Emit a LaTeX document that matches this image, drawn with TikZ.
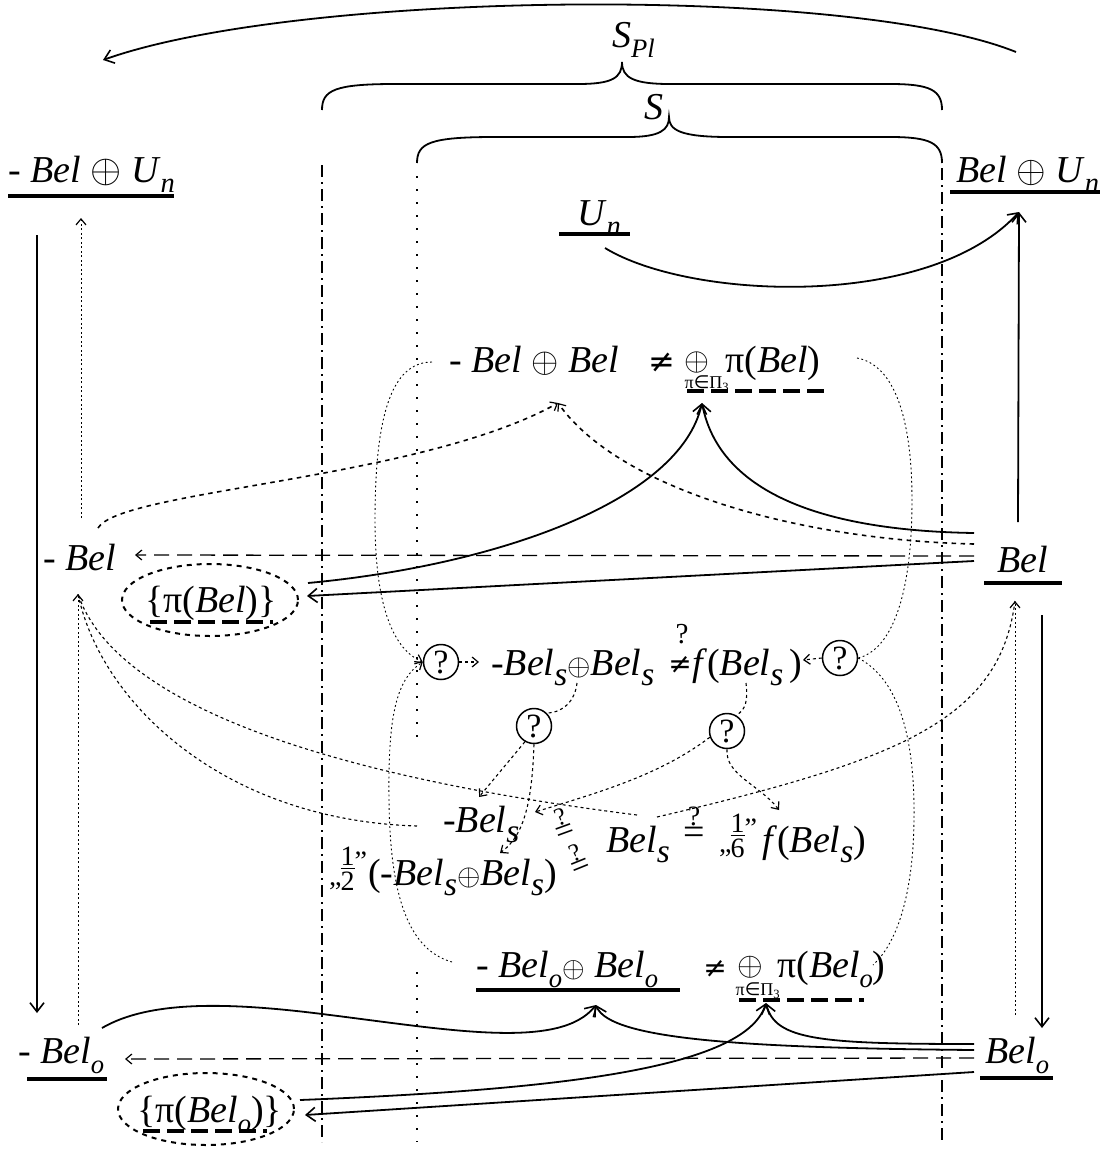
\RequirePackage{fix-cm}
\documentclass[tikz,border=0pt]{standalone}
\usepackage{fontspec}
\setmainfont{Liberation Serif}
\newfontfamily\symf{DejaVu Sans}
\usepackage{graphicx}
\usetikzlibrary{arrows.meta,shapes.geometric}
\newcommand{\Bl}{\textit{Bel}}
\newcommand{\lo}[2][0.7]{\raisebox{-0.28em}{\scalebox{#1}{\textit{#2}}}}
\newcommand{\ls}{\lo[0.88]{s}}
\newcommand{\mf}{\fontsize{38}{40}\selectfont}
\newcommand{\myoplus}[1]{{\fontsize{#1}{#1}\selectfont$\oplus$}}
\newcommand{\myneq}[1]{{\symf\fontsize{#1}{#1}\selectfont ≠}}
\newcommand{\mysub}{π{\symf ∈}Π\textsubscript{3}}
\newcommand{\myfr}[2]{\raisebox{-5pt}{\fontsize{28}{28}\selectfont\vbox{\offinterlineskip\halign{\hfil##\hfil\cr #1\cr\noalign{\kern2.5pt}\noalign{\hrule height 1.4pt}\noalign{\kern2.5pt}#2\cr}}}}
\newcommand{\qfrac}[1]{{\fontsize{28}{28}\selectfont „}\kern-1pt\myfr{1}{#1}\raisebox{15pt}{\fontsize{28}{28}\selectfont ”}}
\newcommand{\qeq}[2]{\vbox{\offinterlineskip\halign{\hfil##\hfil\cr{\fontsize{#1}{#1}\selectfont ?}\cr\noalign{\kern1pt}{\fontsize{#2}{#2}\selectfont =}\cr}}}
\begin{document}
\begin{tikzpicture}[x=1pt,y=-1pt,
  txt/.style={inner sep=0pt, anchor=base west, font=\mf},
  sym/.style={inner sep=0pt, anchor=base},
  small/.style={inner sep=0pt, font=\fontsize{18}{18}\selectfont},
  stk/.style={inner sep=0pt},
  qc/.style={circle, draw, line width=1.5pt, minimum size=35pt, inner sep=0pt, font=\fontsize{34}{34}\selectfont},
  ell/.style={ellipse, draw, line width=2pt, dash pattern=on 5pt off 5pt, minimum width=176pt, minimum height=72pt, inner sep=0pt},
  sarr/.style={line width=1.8pt, -{Straight Barb[length=9pt,width=14pt,line width=1.6pt]}},
  darr/.style={-{Straight Barb[length=6pt,width=10pt,line width=1.2pt]}},
  ulin/.style={line width=3.5pt},
  uldash/.style={line width=3.5pt, dash pattern=on 17pt off 7pt},
  ldash/.style={line width=1.3pt, dash pattern=on 15pt off 8pt},
  mdash/.style={line width=1.6pt, dash pattern=on 4.5pt off 4.5pt},
  sdash/.style={line width=1.1pt, dash pattern=on 3pt off 3pt},
  fine/.style={line width=0.9pt, dash pattern=on 1.8pt off 2.7pt},
  vdot/.style={line width=2pt, dash pattern=on 2pt off 11pt},
  dashdot/.style={line width=1.6pt, dash pattern=on 12pt off 5pt on 2pt off 5pt},
  brace/.style={line width=1.8pt}]
\fill[white] (0,0) rectangle (1110,1149);
\useasboundingbox (0,0) rectangle (1110,1149);

% ---------- labels ----------
\node[txt] (SPl) at (612,47) {\textit{S}\lo{Pl}};
\node[txt] (S) at (644,119) {\textit{S}};
\node[txt] (mBelUn) at (8,182) {- \Bl\ \myoplus{40} \textit{U}\lo[0.75]{n}};
\node[txt] (BelUn) at (956,182) {\Bl\ \myoplus{38} \textit{U}\lo[0.75]{n}};
\node[txt] (Un) at (577,225) {\textit{U}\lo[0.75]{n}};

\node[txt] (eqAa) at (449,372) {- \Bl\ \myoplus{35} \Bl};
\node[sym] (eqAb) at (662,372) {\myneq{32}};
\node[sym] (eqAc) at (697,370) {\myoplus{32}};
\node[small] (eqAs) at (707,384) {\mysub};
\node[txt] (eqAd) at (725,372) {π(\Bl)};

\node[txt] (mBel) at (43,570) {- \Bl};
\node[txt] (Bel) at (997,572) {\Bl};
\node[ell] (ellA) at (210,600) {};
\node[txt] (piBel) at (145,612) {\{π(\Bl)\}};

\node[qc] (qL) at (441,662) {?};
\node[qc] (qR) at (840,658) {?};
\node[qc] (qML) at (534,726) {?};
\node[qc] (qMR) at (727,731) {?};
\node[txt] (eqBa) at (491,675) {-\Bl\ls\myoplus{30}\Bl\ls};
\node[sym] (eqBb) at (680,673) {\myneq{28}};
\node[inner sep=0pt, font=\fontsize{29}{29}\selectfont] (eqBq) at (682,634) {?};
\node[txt] (eqBc) at (692,675) {\textit{f}(\Bl\ls\,)};

\node[txt] (mBels) at (443,832) {-\Bl\ls};
\node[stk, rotate=20] (st1) at (563,825) {\qeq{25}{33}};
\node[stk, rotate=22] (st2) at (578,860) {\qeq{25}{33}};
\node[txt] (Bels) at (606,852) {\Bl\ls};
\node[stk] (st3) at (694,826) {\qeq{28}{38}};
\node[txt] (sixth) at (719,852) {\qfrac{6}};
\node[txt] (fBels) at (762,852) {\textit{f}(\Bl\ls)};
\node[txt] (half) at (329,885) {\qfrac{2}};
\node[txt] (halfB) at (368,885) {(-\Bl\ls\myoplus{30}\Bl\ls)};

\node[txt] (eqCa) at (476,977) {- \Bl\lo{o}\myoplus{29}\ \Bl\lo{o}};
\node[sym] (eqCb) at (715,977) {\myneq{28}};
\node[sym] (eqCc) at (750,975) {\myoplus{33}};
\node[small] (eqCs) at (758,991) {\mysub};
\node[txt] (eqCd) at (777,977) {π(\Bl\lo{o})};

\node[txt] (mBelo) at (18,1063) {- \Bl\lo{o}};
\node[txt] (Belo) at (985,1063) {\Bl\lo{o}};
\node[ell] (ellB) at (206,1109) {};
\node[txt] (piBelo) at (137,1122) {\{π(\Bl\lo{o})\}};

% ---------- underlines ----------
\draw[ulin] (8,196) -- (174,196);
\draw[ulin] (950,192) -- (1100,192);
\draw[ulin] (559,234) -- (630,234);
\draw[uldash] (687,391) -- (826,391);
\draw[ulin] (984,583) -- (1062,583);
\draw[uldash] (150,622) -- (273,622);
\draw[ulin] (476,990) -- (680,990);
\draw[uldash] (739,1000) -- (864,1000);
\draw[ulin] (27,1079) -- (107,1079);
\draw[ulin] (980,1078) -- (1053,1078);
\draw[uldash] (143,1131) -- (267,1131);

% ---------- braces and frame lines ----------
\draw[brace] (322,110) .. controls (322,90) and (335,84) .. (395,84) -- (578,84)
  .. controls (612,84) and (622,78) .. (622,62) .. controls (622,78) and (634,84) .. (670,84)
  -- (890,84) .. controls (930,84) and (942,90) .. (942,110);
\draw[brace] (417,163) .. controls (417,143) and (430,137) .. (495,137) -- (628,137)
  .. controls (660,137) and (669,130) .. (669,117) .. controls (669,130) and (680,137) .. (729,137)
  -- (890,137) .. controls (930,137) and (942,143) .. (942,163);
\draw[dashdot] (322,165) -- (322,1142);
\draw[dashdot] (942,168) -- (942,1142);
\draw[vdot] (417,176) -- (417,740);
\draw[vdot] (417,972) -- (417,1142);

% ---------- coordinates ----------
\coordinate (topR) at (1016,52);
\coordinate (topL) at (103,60);
\coordinate (UnS) at (605,248);
\coordinate (BelUnB) at (1019,212);
\coordinate (mBelUnB) at (37,235);
\coordinate (mBeloT) at (37,1013);
\coordinate (mBelUnD) at (81,218);
\coordinate (mBelD) at (81,518);
\coordinate (mBelB) at (78,594);
\coordinate (mBeloD) at (78,1025);
\coordinate (BelT) at (1018,522);
\coordinate (BelB) at (1015,601);
\coordinate (BeloD) at (1015,1015);
\coordinate (BelBr) at (1042,615);
\coordinate (BeloT) at (1042,1028);
\coordinate (BelA) at (974,533);
\coordinate (BelBb) at (974,544);
\coordinate (BelC) at (974,556);
\coordinate (BelD) at (974,561);
\coordinate (tipBB) at (558,403);
\coordinate (tipPi) at (702,403);
\coordinate (mBelR) at (98,528);
\coordinate (mBelT) at (135,555);
\coordinate (piEa) at (308,583);
\coordinate (piEb) at (307,596);
\coordinate (BeloA) at (974,1044);
\coordinate (BeloB) at (974,1050);
\coordinate (BeloC) at (974,1058);
\coordinate (BeloE) at (974,1072);
\coordinate (tipBo) at (596,1005);
\coordinate (tipPio) at (766,1003);
\coordinate (mBeloR) at (102,1028);
\coordinate (mBeloT2) at (125,1059);
\coordinate (piOa) at (300,1100);
\coordinate (piOb) at (305,1115);
\coordinate (eqAL) at (432,362);
\coordinate (eqAR) at (857,358);
\coordinate (eqCL) at (452,962);
\coordinate (eqCR) at (873,965);
\coordinate (eqBLt) at (479,662);
\coordinate (eqBRt) at (803,660);
\coordinate (eqBop) at (577,683);
\coordinate (eqBf) at (746,683);
\coordinate (mBelsT) at (479,797);
\coordinate (mBelsR) at (535,812);
\coordinate (mBelsL) at (417,826);
\coordinate (halfT) at (500,853);
\coordinate (sixT) at (779,810);
\coordinate (BelsTL) at (637,815);
\coordinate (BelsTR) at (657,817);

% ---------- connectors ----------
\draw[sarr] (topR) .. controls (850,-15) and (300,-10) .. (topL);
\draw[sarr] (UnS) .. controls (690,300) and (930,310) .. (BelUnB);
\draw[sarr] (mBelUnB) -- (mBeloT);
\draw[fine, darr] (mBelD) -- (mBelUnD);
\draw[fine, darr] (mBeloD) -- (mBelB);
\draw[sarr] (BelT) -- (BelUnB);
\draw[fine, darr] (BeloD) -- (BelB);
\draw[sarr] (BelBr) -- (BeloT);

\draw[mdash, darr] (mBelR) .. controls (120,490) and (420,480) .. (tipBB);
\draw[mdash, darr] (BelBb) .. controls (800,540) and (620,490) .. (tipBB);
\draw[sarr] (BelA) .. controls (780,530) and (715,470) .. (tipPi);
\draw[sarr] (piEa) .. controls (500,565) and (680,500) .. (tipPi);
\draw[ldash, darr] (BelC) -- (mBelT);
\draw[sarr] (BelD) -- (piEb);

\draw[sarr] (mBeloR) .. controls (150,1000) and (230,1002) .. (330,1015) .. controls (450,1030) and (560,1050) .. (tipBo);
\draw[sarr] (BeloB) .. controls (750,1048) and (610,1040) .. (tipBo);
\draw[sarr] (BeloA) .. controls (820,1044) and (775,1040) .. (tipPio);
\draw[sarr] (piOa) .. controls (550,1090) and (745,1070) .. (tipPio);
\draw[ldash, darr] (BeloC) -- (mBeloT2);
\draw[sarr] (BeloE) -- (piOb);

\draw[fine, darr] (eqAL) .. controls (390,362) and (375,420) .. (375,520) .. controls (375,610) and (395,650) .. (qL.west);
\draw[fine, darr] (eqCL) .. controls (410,950) and (390,900) .. (389,800) .. controls (388,720) and (395,680) .. (qL.west);
\draw[fine] (eqAR) .. controls (895,365) and (912,420) .. (912,500) .. controls (912,600) and (890,650) .. (qR.east);
\draw[fine] (qR.east) .. controls (900,680) and (915,740) .. (914,820) .. controls (913,900) and (895,945) .. (eqCR);

\draw[sdash, darr] (qL.east) -- (eqBLt);
\draw[sdash, darr] (qR.west) -- (eqBRt);
\draw[sdash] (eqBop) .. controls (575,700) and (565,712) .. (qML.45);
\draw[sdash] (eqBf) .. controls (748,700) and (746,710) .. (qMR.60);
\draw[sdash, darr] (qML.240) -- (mBelsT);
\draw[sdash, darr] (qML.south) .. controls (532,800) and (525,835) .. (halfT);
\draw[sdash, darr] (qMR.200) .. controls (660,775) and (600,792) .. (mBelsR);
\draw[sdash, darr] (qMR.south) .. controls (725,775) and (760,785) .. (sixT);

\draw[sdash] (mBelsL) .. controls (220,820) and (100,700) .. (mBelB);
\draw[sdash] (BelsTL) .. controls (280,770) and (110,690) .. (mBelB);
\draw[sdash] (BelsTR) .. controls (900,760) and (1000,720) .. (BelB);
\end{tikzpicture}
\end{document}
